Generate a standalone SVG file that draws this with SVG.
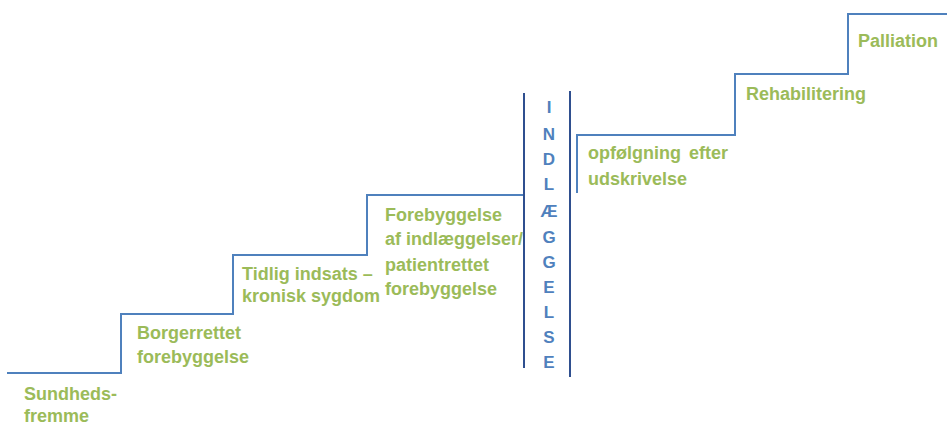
<svg xmlns="http://www.w3.org/2000/svg" width="947" height="426" viewBox="0 0 947 426">
<style>
.t{font-family:"Liberation Sans",Arial,sans-serif;font-weight:bold;font-size:18px;fill:#9BBB59}
.v{font-family:"Liberation Sans",Arial,sans-serif;font-weight:bold;font-size:17px;fill:#4F81BD;text-anchor:middle}
.s{fill:none;stroke:#4F81BD;stroke-width:2}
.d{fill:none;stroke:#2F4F8F;stroke-width:2}
</style>
<rect width="947" height="426" fill="#fff"/>
<g id="connectors">
<path class="s" d="M7,373 H121 V314 H233 V255 H367 V195 H524"/>
<path class="d" d="M524,93 V368"/>
<path class="d" d="M570,91 V377"/>
<path class="s" d="M577,193 V135 H735 V74 H848 V14 H947"/>
</g>
<g id="sundhedsfremme"><text class="t" x="24" y="400">Sundheds-</text><text class="t" x="24" y="422">fremme</text></g>
<g id="borgerrettet"><text class="t" x="137" y="339">Borgerrettet</text><text class="t" x="137" y="363">forebyggelse</text></g>
<g id="tidlig"><text class="t" x="242" y="280">Tidlig indsats –</text><text class="t" x="242" y="302">kronisk sygdom</text></g>
<g id="forebyggelse"><text class="t" x="385" y="221">Forebyggelse</text><text class="t" x="385" y="245">af indlæggelser/</text><text class="t" x="385" y="271">patientrettet</text><text class="t" x="385" y="295">forebyggelse</text></g>
<g id="indlaeggelse">
<text class="v" x="549" y="113">I</text>
<text class="v" x="549" y="140">N</text>
<text class="v" x="549" y="165">D</text>
<text class="v" x="549" y="190">L</text>
<text class="v" x="549" y="217">Æ</text>
<text class="v" x="549" y="243">G</text>
<text class="v" x="549" y="268">G</text>
<text class="v" x="549" y="293">E</text>
<text class="v" x="549" y="318">L</text>
<text class="v" x="549" y="343">S</text>
<text class="v" x="549" y="368">E</text>
</g>
<g id="opfoelgning"><text class="t" x="588" y="159" word-spacing="3">opfølgning efter</text><text class="t" x="588" y="185">udskrivelse</text></g>
<g id="rehabilitering"><text class="t" x="746" y="100">Rehabilitering</text></g>
<g id="palliation"><text class="t" x="858" y="47">Palliation</text></g>
</svg>
